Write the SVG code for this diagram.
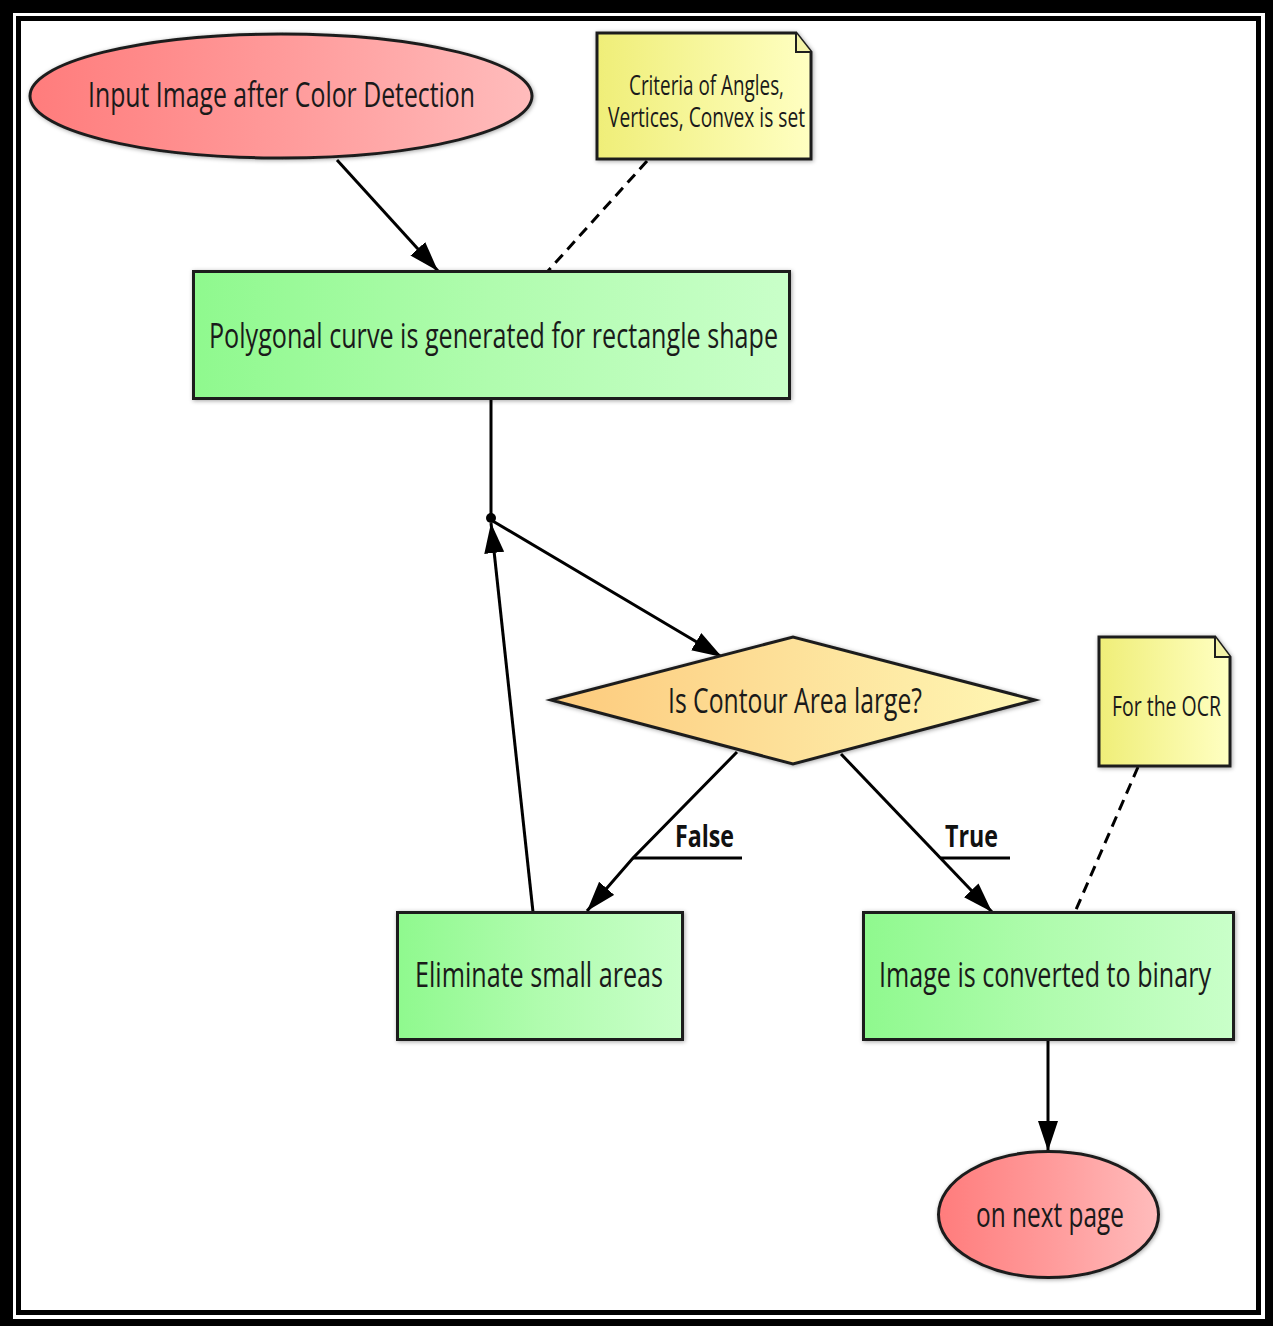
<svg xmlns="http://www.w3.org/2000/svg" width="1273" height="1326" viewBox="0 0 1273 1326">
  <defs>
    <linearGradient id="gRed" x1="0" y1="0" x2="1" y2="0">
      <stop offset="0" stop-color="#ff7c7c"/>
      <stop offset="0.5" stop-color="#ff9a9a"/>
      <stop offset="1" stop-color="#ffbcbc"/>
    </linearGradient>
    <linearGradient id="gGreen" x1="0" y1="0" x2="1" y2="0">
      <stop offset="0" stop-color="#8ff98e"/>
      <stop offset="0.5" stop-color="#b0fcae"/>
      <stop offset="1" stop-color="#c9ffc9"/>
    </linearGradient>
    <linearGradient id="gYellow" x1="0" y1="0" x2="1" y2="0">
      <stop offset="0" stop-color="#efee78"/>
      <stop offset="1" stop-color="#ffffc2"/>
    </linearGradient>
    <linearGradient id="gOrange" x1="0" y1="0" x2="1" y2="0">
      <stop offset="0" stop-color="#fdca7c"/>
      <stop offset="0.5" stop-color="#fde19a"/>
      <stop offset="1" stop-color="#fff7b4"/>
    </linearGradient>
    <filter id="shadow" x="-10%" y="-10%" width="120%" height="120%">
      <feDropShadow dx="1" dy="1" stdDeviation="2" flood-color="#000" flood-opacity="0.35"/>
    </filter>
    <marker id="arrow" markerUnits="userSpaceOnUse" markerWidth="32" markerHeight="22" refX="30" refY="10" orient="auto">
      <path d="M0,0 L30,10 L0,20 z" fill="#000"/>
    </marker>
    <style>
      .shape { stroke: #1e1e1e; stroke-width: 3; filter: url(#shadow); }
      .lbl { font-family: "Open Sans", "DejaVu Sans", sans-serif; fill: #1a1a1a; text-anchor: middle; }
      .big { font-size: 34px; }
      .note { font-size: 28px; }
      .cond { font-family: "Open Sans", "DejaVu Sans", sans-serif; font-size: 30px; font-weight: bold; fill: #111; text-anchor: middle; }
      .edge { stroke: #000; stroke-width: 3; fill: none; }
      .dash { stroke: #000; stroke-width: 3; fill: none; stroke-dasharray: 11 7; }
    </style>
  </defs>

  <!-- frame -->
  <rect x="0" y="0" width="1273" height="1326" fill="#000"/>
  <rect x="13" y="13" width="1252" height="1306" fill="#fff"/>
  <rect x="18.5" y="18.5" width="1240" height="1294" fill="none" stroke="#000" stroke-width="5"/>

  <g id="connectors">
    <line class="edge" x1="337" y1="160" x2="438" y2="271" marker-end="url(#arrow)"/>
    <line class="dash" x1="647" y1="161" x2="548" y2="271"/>
    <line class="edge" x1="491" y1="400" x2="491" y2="518"/>
    <line class="edge" x1="491" y1="520" x2="722" y2="657" marker-end="url(#arrow)"/>
    <line class="edge" x1="533" y1="912" x2="491" y2="523" marker-end="url(#arrow)"/>
    <polyline class="edge" points="737,752 633,858 587,911" marker-end="url(#arrow)"/>
    <line class="edge" x1="633" y1="858" x2="742" y2="858"/>
    <line class="edge" x1="841" y1="754" x2="992" y2="912" marker-end="url(#arrow)"/>
    <line class="edge" x1="941" y1="858" x2="1010" y2="858"/>
    <line class="dash" x1="1138" y1="767" x2="1075" y2="912"/>
    <line class="edge" x1="1048" y1="1041" x2="1048" y2="1151" marker-end="url(#arrow)"/>
    <circle cx="491" cy="518" r="5" fill="#000"/>
    <text class="cond" x="704.5" y="847" textLength="59" lengthAdjust="spacingAndGlyphs">False</text>
    <text class="cond" x="971.5" y="847" textLength="53" lengthAdjust="spacingAndGlyphs">True</text>
  </g>

  <g id="start">
    <ellipse class="shape" cx="281" cy="96" rx="251" ry="62" fill="url(#gRed)"/>
    <text class="lbl big" x="281.5" y="107" textLength="387" lengthAdjust="spacingAndGlyphs">Input Image after Color Detection</text>
  </g>

  <g id="note1">
    <path class="shape" d="M597,33 L796,33 L811,52 L811,159 L597,159 Z" fill="url(#gYellow)"/>
    <path d="M796,33 L796,52 L811,52" fill="#f4f3a8" stroke="#1e1e1e" stroke-width="2"/>
    <text class="lbl note" x="706.5" y="95" textLength="155" lengthAdjust="spacingAndGlyphs">Criteria of Angles,</text>
    <text class="lbl note" x="706.5" y="127" textLength="197" lengthAdjust="spacingAndGlyphs">Vertices, Convex is set</text>
  </g>

  <g id="polygon">
    <rect class="shape" x="193.5" y="271.5" width="596" height="127" fill="url(#gGreen)"/>
    <text class="lbl big" x="493.5" y="348" textLength="569" lengthAdjust="spacingAndGlyphs">Polygonal curve is generated for rectangle shape</text>
  </g>

  <g id="decision">
    <polygon class="shape" points="551,700 793,637 1035,700 793,764" fill="url(#gOrange)"/>
    <text class="lbl big" x="795" y="713" textLength="254" lengthAdjust="spacingAndGlyphs">Is Contour Area large?</text>
  </g>

  <g id="note2">
    <path class="shape" d="M1099,637 L1215,637 L1230,657 L1230,766 L1099,766 Z" fill="url(#gYellow)"/>
    <path d="M1215,637 L1215,657 L1230,657" fill="#f4f3a8" stroke="#1e1e1e" stroke-width="2"/>
    <text class="lbl note" x="1166.5" y="716" textLength="109" lengthAdjust="spacingAndGlyphs">For the OCR</text>
  </g>

  <g id="eliminate">
    <rect class="shape" x="397.5" y="912.5" width="285" height="127" fill="url(#gGreen)"/>
    <text class="lbl big" x="539" y="987" textLength="248" lengthAdjust="spacingAndGlyphs">Eliminate small areas</text>
  </g>

  <g id="binary">
    <rect class="shape" x="863.5" y="912.5" width="370" height="127" fill="url(#gGreen)"/>
    <text class="lbl big" x="1045" y="987" textLength="332" lengthAdjust="spacingAndGlyphs">Image is converted to binary</text>
  </g>

  <g id="end">
    <ellipse class="shape" cx="1048.5" cy="1214.5" rx="110" ry="63" fill="url(#gRed)"/>
    <text class="lbl big" x="1050" y="1227" textLength="148" lengthAdjust="spacingAndGlyphs">on next page</text>
  </g>
</svg>
